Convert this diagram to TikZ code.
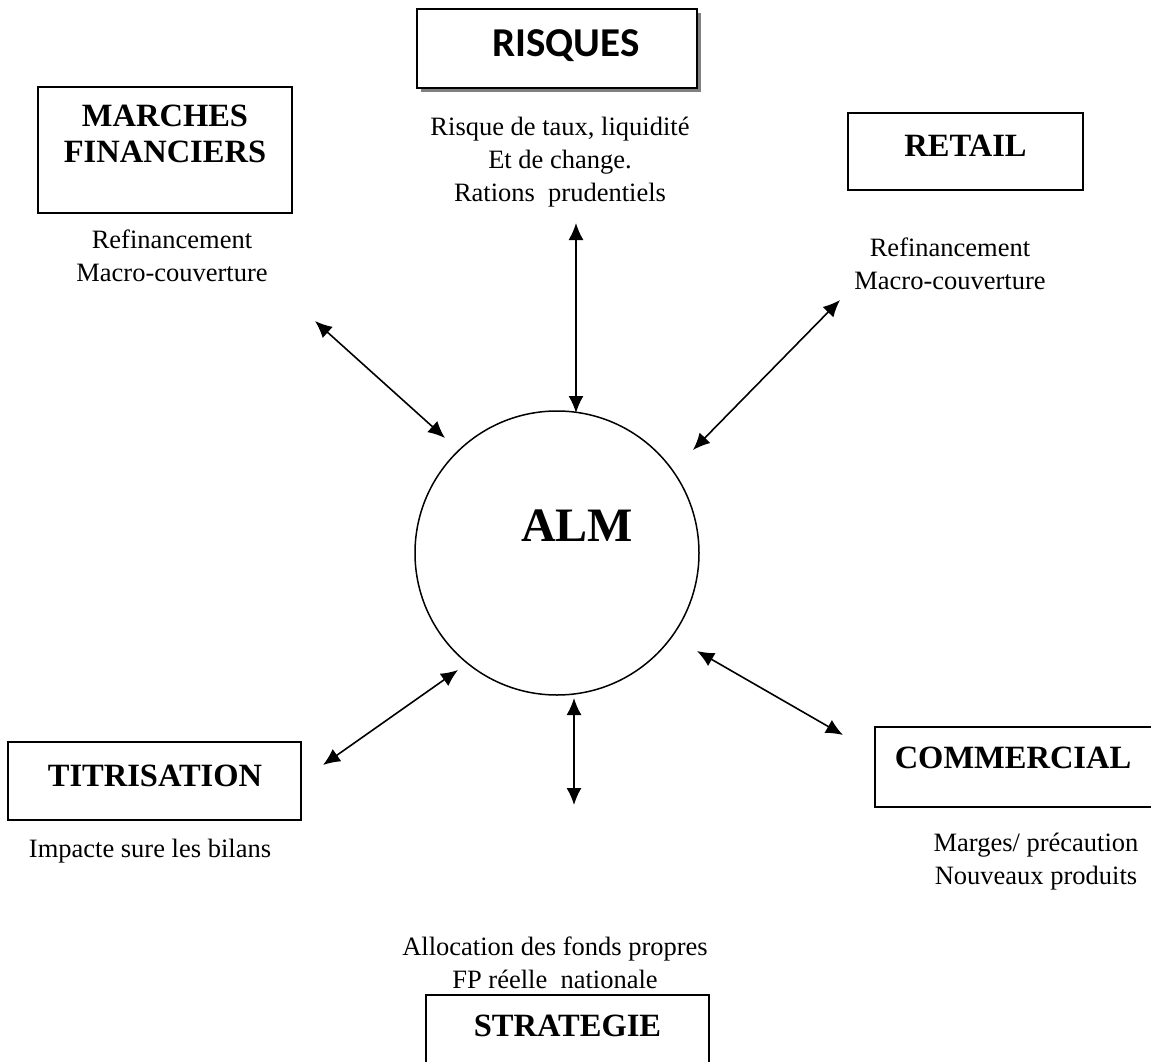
\documentclass[tikz,border=0pt]{standalone}
\usepackage{fontspec}
\setmainfont{Liberation Serif}
\newfontfamily\calibri{Carlito}
\usetikzlibrary{shadows,arrows.meta}
\begin{document}
\begin{tikzpicture}[x=1pt,y=-1pt]
    \tikzstyle{marrs}=[line width=1.6pt,{Latex[length=17pt,width=15pt]}-{Latex[length=17pt,width=15pt]}]
    \tikzstyle{cadre}=[draw,line width=1.5pt,inner sep=0pt]
    \tikzstyle{titre}=[font=\fontsize{32.5}{36}\selectfont\bfseries,align=center]
    \tikzstyle{texte}=[font=\fontsize{26.5}{33}\selectfont,align=center]

    \useasboundingbox (0,0) rectangle (1151,1062);
    \clip (0,0) rectangle (1151,1062);

    % centre
    \node[draw,circle,line width=1.5pt,minimum size=284] (alm) at (557,553) {};
    \node[font=\fontsize{48}{52}\selectfont\bfseries] (almT) at (577,526) {ALM};

    % risques
    \node[cadre,fill=white,minimum width=280,minimum height=79,
        drop shadow={shadow xshift=4pt,shadow yshift=-4pt,opacity=1,fill=gray}] (risques) at (557,48.5) {};
    \node[font=\fontsize{41}{46}\selectfont\calibri\bfseries] (risquesT) at (566,46) {RISQUES};
    \node[texte] (risquesL) at (560,162) {Risque de taux, liquidit\'e\\Et de change.\\Rations~ prudentiels};

    % marches financiers
    \node[cadre,minimum width=254,minimum height=126] (marches) at (165,150) {};
    \node[titre] (marchesT) at (165,134) {MARCHES\\FINANCIERS};
    \node[texte] (marchesL) at (172,256) {Refinancement\\Macro-couverture};

    % retail
    \node[cadre,minimum width=235,minimum height=77] (retail) at (965.5,151.5) {};
    \node[titre] (retailT) at (965.5,146) {RETAIL};
    \node[texte] (retailL) at (950,264) {Refinancement\\Macro-couverture};

    % titrisation
    \node[cadre,minimum width=293,minimum height=78] (titri) at (154.5,781) {};
    \node[titre] (titriT) at (155,776) {TITRISATION};
    \node[texte] (titriL) at (150,851) {Impacte sure les bilans};

    % commercial
    \node[cadre,minimum width=290,minimum height=80] (comm) at (1020,767) {};
    \node[titre] (commT) at (1013,758) {COMMERCIAL};
    \node[texte] (commL) at (1036,862) {Marges/ pr\'ecaution\\Nouveaux produits};

    % strategie
    \node[texte] (stratL) at (555,963) {Allocation des fonds propres\\FP r\'eelle~ nationale};
    \node[cadre,minimum width=283,minimum height=90] (strat) at (567.5,1040) {};
    \node[titre] (stratT) at (567.5,1026) {STRATEGIE};

    % fleches
    \coordinate (a1) at (315,321);   \coordinate (b1) at (445,438);
    \coordinate (a2) at (576,223);   \coordinate (b2) at (576,413);
    \coordinate (a3) at (840,300);   \coordinate (b3) at (693,450);
    \coordinate (a4) at (323,765);   \coordinate (b4) at (458,670);
    \coordinate (a5) at (574,805);   \coordinate (b5) at (574,698);
    \coordinate (a6) at (843,735);   \coordinate (b6) at (697,651);
    \foreach \i in {1,...,6} {
        \draw[marrs] (a\i) -- (b\i);
    }
\end{tikzpicture}
\end{document}
